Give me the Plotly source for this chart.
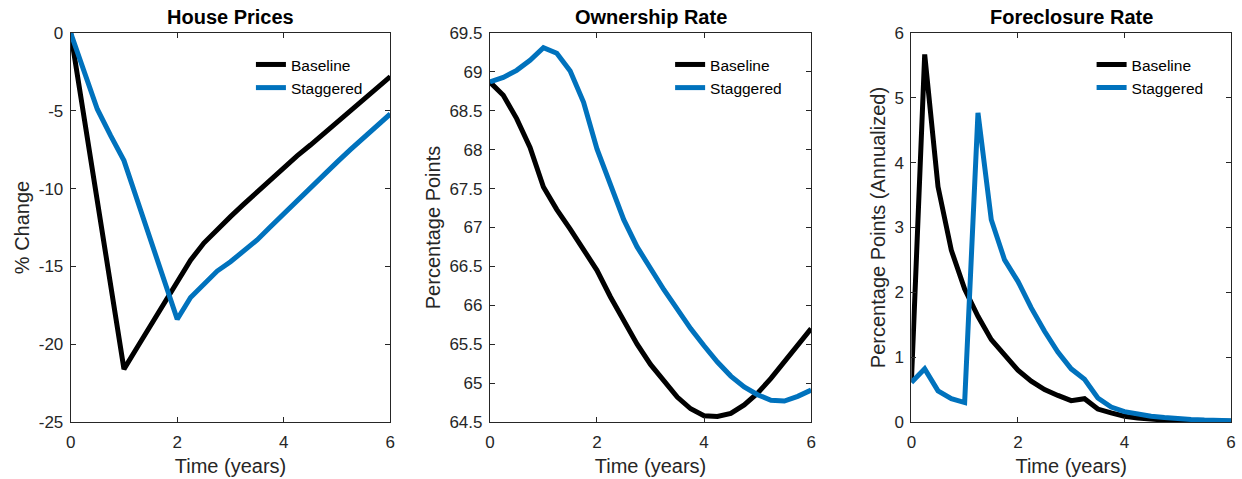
import plotly.graph_objects as go

# ---- data (quarterly, 0..6 years) ----
time_years = [i * 0.25 for i in range(25)]

house_baseline = [0, -5.4, -10.8, -16.2, -21.6, -20.2, -18.8, -17.4, -16.0, -14.6,
                  -13.5, -12.6, -11.8, -11.0, -10.2, -9.4, -8.65, -7.9, -7.2, -6.45,
                  -5.75, -5.0, -4.3, -3.55, -2.8]
house_staggered = [0, -2.45, -4.9, -6.6, -8.2, -10.75, -13.3, -15.85, -18.4, -17.0,
                   -16.1, -15.3, -14.7, -14.0, -13.3, -12.45, -11.6, -10.75, -9.9, -9.1,
                   -8.3, -7.5, -6.75, -5.95, -5.2]

own_baseline = [68.87, 68.70, 68.40, 68.03, 67.52, 67.23, 66.98, 66.72, 66.45, 66.11,
                65.80, 65.50, 65.24, 65.02, 64.82, 64.67, 64.58, 64.57, 64.61, 64.72,
                64.87, 65.06, 65.27, 65.48, 65.70]
own_staggered = [68.87, 68.93, 69.02, 69.15, 69.31, 69.24, 69.01, 68.61, 68.01, 67.55,
                 67.10, 66.75, 66.47, 66.20, 65.95, 65.70, 65.48, 65.27, 65.09, 64.95,
                 64.85, 64.78, 64.77, 64.83, 64.91]

fc_baseline = [0.61, 5.67, 3.63, 2.65, 2.05, 1.63, 1.27, 1.02, 0.80, 0.63,
               0.50, 0.41, 0.33, 0.36, 0.20, 0.14, 0.09, 0.06, 0.04, 0.03,
               0.02, 0.015, 0.01, 0.01, 0.01]
fc_staggered = [0.61, 0.82, 0.48, 0.36, 0.30, 4.77, 3.12, 2.50, 2.17, 1.76,
                1.40, 1.08, 0.82, 0.66, 0.37, 0.23, 0.16, 0.12, 0.09, 0.07,
                0.05, 0.04, 0.03, 0.03, 0.02]

titles = ["House Prices", "Ownership Rate", "Foreclosure Rate"]
y_titles = ["% Change", "Percentage Points", "Percentage Points (Annualized)"]
x_title = "Time (years)"
series_names = ["Baseline", "Staggered"]
x_ticks = [0, 2, 4, 6]
y_ticks = [
    [-25, -20, -15, -10, -5, 0],
    [64.5, 65, 65.5, 66, 66.5, 67, 67.5, 68, 68.5, 69, 69.5],
    [0, 1, 2, 3, 4, 5, 6],
]
y_tick_text = [
    ["-25", "-20", "-15", "-10", "-5", "0"],
    ["64.5", "65", "65.5", "66", "66.5", "67", "67.5", "68", "68.5", "69", "69.5"],
    ["0", "1", "2", "3", "4", "5", "6"],
]
y_ranges = [[-25, 0], [64.5, 69.5], [0, 6]]

panels = [(house_baseline, house_staggered),
          (own_baseline, own_staggered),
          (fc_baseline, fc_staggered)]

# ---- layout geometry (pixels) ----
W, H = 1242, 479
ML, MR, MT, MB = 70, 6, 33, 54
PW, PH = W - ML - MR, H - MT - MB
panel_px = [(70.7, 391.7), (491.7, 814.3), (915.0, 1236.5)]


def px_x(p):
    return (p - ML) / PW


def px_y(p):
    return 1 - (p - MT) / PH


BLACK = "#000000"
BLUE = "rgb(0,114,189)"
AXC = "rgb(38,38,38)"
FONT = "Liberation Sans, Arial, Helvetica, sans-serif"

fig = go.Figure()
for i, (base, stag) in enumerate(panels):
    xa = "x" if i == 0 else f"x{i+1}"
    ya = "y" if i == 0 else f"y{i+1}"
    lg = "legend" if i == 0 else f"legend{i+1}"
    fig.add_trace(go.Scatter(x=time_years, y=base, mode="lines", name=series_names[0],
                             line=dict(color=BLACK, width=5), xaxis=xa, yaxis=ya,
                             legend=lg))
    fig.add_trace(go.Scatter(x=time_years, y=stag, mode="lines", name=series_names[1],
                             line=dict(color=BLUE, width=5), xaxis=xa, yaxis=ya,
                             legend=lg))

layout = dict(
    width=W, height=H,
    margin=dict(l=ML, r=MR, t=MT, b=MB),
    paper_bgcolor="white", plot_bgcolor="white",
    font=dict(family=FONT, size=17, color=AXC),
    annotations=[],
)

for i in range(3):
    sx = "" if i == 0 else str(i + 1)
    x0, x1 = panel_px[i]
    layout["xaxis" + sx] = dict(
        domain=[max(0, px_x(x0)), min(1, px_x(x1))], anchor="y" + sx,
        range=[0, 6], tickvals=x_ticks, ticks="inside", ticklen=5, tickcolor=AXC,
        showline=True, linecolor=AXC, linewidth=1, mirror="ticks",
        showgrid=False, zeroline=False, ticklabelstandoff=5,
        title=dict(text=x_title, font=dict(size=20, color=AXC), standoff=7),
        tickfont=dict(size=17, color=AXC),
    )
    layout["yaxis" + sx] = dict(
        domain=[0, 1], anchor="x" + sx,
        range=y_ranges[i], tickvals=y_ticks[i], ticktext=y_tick_text[i],
        ticks="inside", ticklen=5, tickcolor=AXC,
        showline=True, linecolor=AXC, linewidth=1, mirror="ticks",
        showgrid=False, zeroline=False, ticklabelstandoff=3,
        title=dict(text=y_titles[i], font=dict(size=20, color=AXC), standoff=3),
        tickfont=dict(size=17, color=AXC),
    )
    layout["annotations"].append(dict(
        text="<b>" + titles[i] + "</b>", xref="paper", yref="paper",
        x=px_x((x0 + x1) / 2), y=px_y(17), xanchor="center", yanchor="middle",
        showarrow=False, font=dict(size=20, color="black", family=FONT)))
    lg_key = "legend" if i == 0 else f"legend{i+1}"
    layout[lg_key] = dict(
        x=px_x(x0 + 181), y=px_y(48), xanchor="left", yanchor="top",
        bgcolor="rgba(0,0,0,0)", borderwidth=0,
        font=dict(size=15.5, color="black", family=FONT),
        tracegroupgap=0, itemwidth=30,
    )

fig.update_layout(**layout)
fig.write_html("out.html",
               config={"displayModeBar": False},
               post_script="document.body.style.margin='0';document.body.style.padding='0';")
